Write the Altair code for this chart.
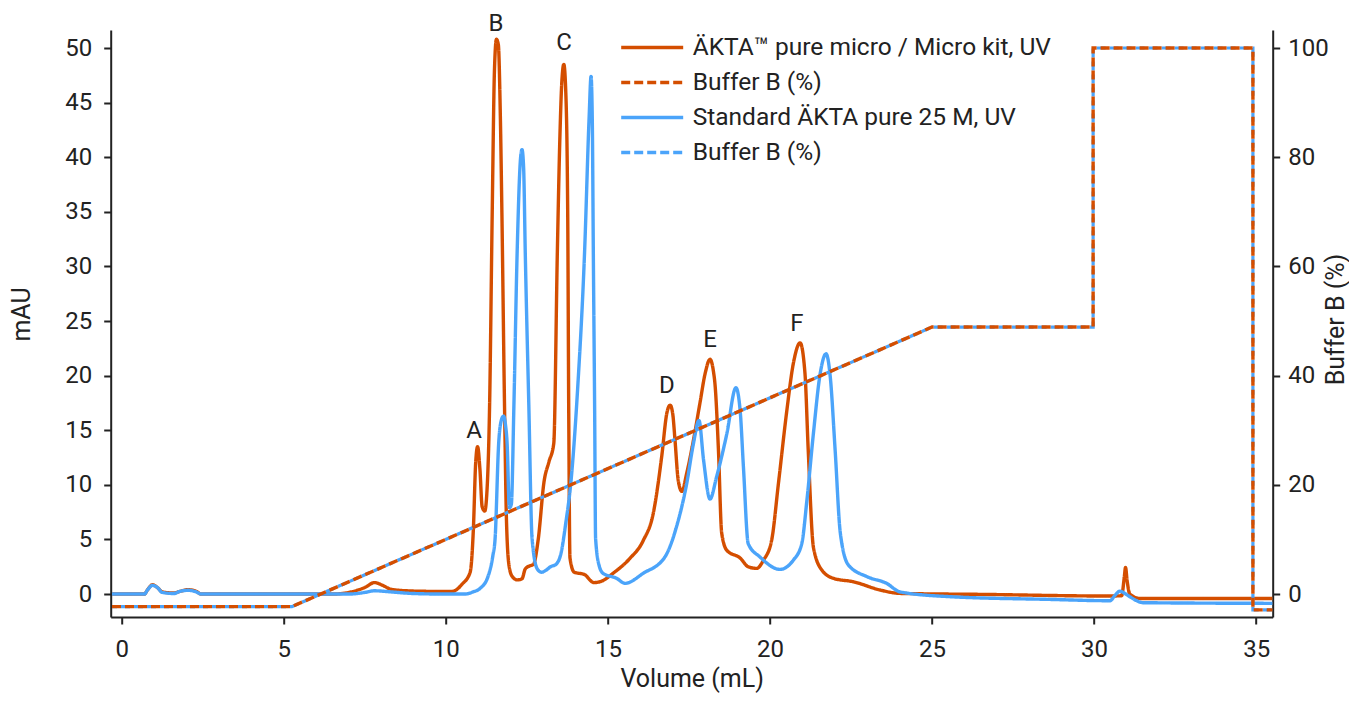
import altair as alt
import pandas as pd

# ---------------- data ----------------
micro_vol = [-0.3, 0.7, 0.8, 0.95, 1.1, 1.25, 1.6, 1.8, 2.05, 2.3, 2.45, 6.5, 7.0, 7.5, 7.8, 8.05,
             8.3, 8.8, 9.5, 10.2, 10.5, 10.75, 10.85, 10.92, 10.98, 11.05, 11.12, 11.2, 11.27,
             11.35, 11.43, 11.5, 11.56, 11.62, 11.68, 11.73, 11.81, 11.87, 11.95, 12.05, 12.2,
             12.35, 12.45, 12.6, 12.7, 12.85, 13.03, 13.18, 13.33, 13.44, 13.52, 13.58, 13.64,
             13.7, 13.76, 13.79, 13.83, 13.96, 14.27, 14.57, 14.76, 15.2, 15.68, 16.09, 16.4,
             16.66, 16.82, 16.92, 17.0, 17.07, 17.17, 17.28, 17.43, 17.64, 17.84, 18.0, 18.15,
             18.25, 18.31, 18.41, 18.51, 18.67, 19.08, 19.33, 19.59, 19.8, 20.05, 20.26, 20.52,
             20.72, 20.93, 21.08, 21.18, 21.34, 21.6, 21.96, 22.57, 23.4, 24.01, 26.58, 30.49,
             30.85, 30.93, 30.97, 31.02, 31.1, 31.42, 35.5]
micro_mau = [0, 0, 0.4, 0.85, 0.6, 0.2, 0.1, 0.25, 0.4, 0.25, 0, 0, 0.15, 0.6, 1.05, 0.8,
             0.45, 0.3, 0.25, 0.25, 0.9, 2.0, 6.0, 12.0, 13.5, 11.5, 8.0, 7.6, 9.5,
             17.3, 34.8, 48.0, 50.8, 50.3, 44.0, 34.8, 17.3, 6.8, 2.6, 1.6, 1.3,
             1.4, 2.3, 2.6, 2.7, 5.0, 10.3, 12.1, 13.8, 31.3, 42.0, 47.0, 48.5,
             46.0, 34.8, 17.3, 3.3, 2.0, 1.8, 1.05, 1.13, 2.0, 3.27, 4.9, 7.4,
             12.6, 16.6, 17.3, 16.5, 14.1, 10.4, 9.4, 11.05, 14.1, 17.5, 20.2, 21.5,
             20.5, 19.0, 13.2, 5.6, 4.0, 3.3, 2.5, 2.35, 3.1, 4.9, 10.1, 16.8,
             21.1, 23.0, 20.2, 13.2, 4.3, 2.2, 1.44, 1.13, 0.37, 0.06, -0.03, -0.18,
             -0.15, 1.5, 2.44, 1.2, 0.0, -0.4, -0.4]

std_vol = [-0.3, 0.7, 0.8, 0.95, 1.1, 1.25, 1.6, 1.8, 2.05, 2.3, 2.45, 7.0, 7.5, 7.8, 8.3, 9.0,
           10.0, 10.6, 10.84, 11.05, 11.3, 11.45, 11.52, 11.63, 11.72, 11.78, 11.84, 11.89,
           11.96, 12.02, 12.1, 12.2, 12.31, 12.35, 12.4, 12.45, 12.56, 12.66, 12.82, 12.95,
           13.1, 13.23, 13.39, 13.55, 13.7, 13.86, 14.07, 14.28, 14.42, 14.48, 14.52, 14.55,
           14.59, 14.62, 14.73, 14.85, 15.27, 15.53, 16.09, 16.76, 17.12, 17.43, 17.64, 17.81,
           17.95, 18.15, 18.35, 18.67, 18.95, 19.08, 19.18, 19.33, 19.69, 20.31, 20.72, 20.98,
           21.14, 21.34, 21.55, 21.73, 21.86, 22.01, 22.17, 22.42, 22.99, 23.6, 24.01, 25.56,
           28.64, 30.49, 30.65, 30.8, 30.95, 31.1, 31.52, 35.5]
std_mau = [0, 0, 0.4, 0.8, 0.6, 0.15, 0.05, 0.25, 0.35, 0.2, 0, 0, 0.15, 0.3, 0.2, 0.05,
           0, 0, 0.2, 0.5, 1.6, 3.5, 5.1, 13.8, 16.0, 16.3, 15.5, 13.8,
           7.9, 8.2, 17.3, 31.3, 40.1, 40.7, 39.0, 31.3, 17.3, 5.1, 2.3, 2.0,
           2.2, 2.5, 2.7, 3.7, 6.5, 10.3, 19.0, 31.3, 43.6, 47.4, 43.0, 31.3,
           17.3, 5.1, 2.6, 1.9, 1.44, 0.98, 1.9, 3.4, 6.2, 10.1, 13.8, 15.9,
           12.3, 8.7, 10.7, 14.7, 18.9, 16.8, 11.7, 4.6, 3.4, 2.26, 3.1, 4.6,
           8.6, 14.7, 20.2, 22.0, 19.9, 13.2, 5.6, 2.66, 1.6, 0.98, 0.2, -0.24,
           -0.49, -0.61, -0.1, 0.27, 0.05, -0.24, -0.79, -0.85]

buffer_vol = [-0.3, 5.25, 25.0, 29.97, 29.97, 34.9, 34.9, 35.5]
buffer_pct = [-2.3, -2.3, 48.9, 48.9, 100.0, 100.0, -2.9, -2.9]

peak_names = ["A", "B", "C", "D", "E", "F"]
peak_vol = [10.87, 11.55, 13.65, 16.82, 18.15, 20.83]
peak_mau = [14.9, 52.2, 50.5, 19.05, 23.3, 24.7]

series_keys = ["micro_uv", "micro_b", "std_uv", "std_b"]
series_labels = ["ÄKTA™ pure micro / Micro kit, UV", "Buffer B (%)",
                 "Standard ÄKTA pure 25 M, UV", "Buffer B (%)"]

# ---------------- styling ----------------
ORANGE = "#D44E00"
BLUE = "#4BA4FA"
series_colors = [ORANGE, ORANGE, BLUE, BLUE]
series_dashes = [[1, 0], [9, 4], [1, 0], [9, 4]]
FONT = "Roboto"
INK = "#222222"

def frame(vols, vals, key, col):
    return pd.DataFrame({"vol": vols, col: vals, "series": key, "idx": range(len(vols))})

micro_df = frame(micro_vol, micro_mau, "micro_uv", "mau")
std_df = frame(std_vol, std_mau, "std_uv", "mau")
micro_b_df = frame(buffer_vol, buffer_pct, "micro_b", "pct")
std_b_df = frame(buffer_vol, buffer_pct, "std_b", "pct")
peaks_df = pd.DataFrame({"name": peak_names, "vol": peak_vol, "mau": peak_mau})

label_expr = " : ".join(
    f"datum.value == '{k}' ? '{l}'" for k, l in zip(series_keys, series_labels)
) + " : ''"

# wide, flat line symbol for the legend (path is scaled by sqrt(size)/2)
legend = alt.Legend(
    orient="none", legendX=529, legendY=5, title=None, padding=0,
    symbolType="M-3,0L3,0", symbolSize=427, symbolStrokeWidth=3.5,
    labelFont=FONT, labelFontSize=24.5, labelColor=INK, labelOffset=28,
    labelLimit=600, rowPadding=10, labelExpr=label_expr,
)
color_enc = alt.Color("series:N", scale=alt.Scale(domain=series_keys, range=series_colors),
                      legend=legend)
dash_enc = alt.StrokeDash("series:N", scale=alt.Scale(domain=series_keys, range=series_dashes),
                          legend=legend)

x_enc = alt.X("vol:Q", scale=alt.Scale(domain=[-0.34, 35.51], nice=False, zero=False),
              axis=alt.Axis(values=[0, 5, 10, 15, 20, 25, 30, 35], title="Volume (mL)",
                            labelPadding=14, titleX=581, titleY=62,
                            titleAlign="center", titleBaseline="middle"))
y_left = alt.Y("mau:Q", scale=alt.Scale(domain=[-2.1, 51.65], nice=False, zero=False),
               axis=alt.Axis(orient="left", values=[0, 5, 10, 15, 20, 25, 30, 35, 40, 45, 50],
                             title="mAU", labelPadding=12, titleX=-88.7, titleY=284,
                             titleAngle=270, titleAlign="center", titleBaseline="middle"))
y_right = alt.Y("pct:Q", scale=alt.Scale(domain=[-4.2, 103.3], nice=False, zero=False),
                axis=alt.Axis(orient="right", values=[0, 20, 40, 60, 80, 100],
                              title="Buffer B (%)", labelPadding=8, titleX=63, titleY=289,
                              titleAngle=270, titleAlign="center", titleBaseline="middle"))

order_enc = alt.Order("idx:Q")

micro_line = alt.Chart(micro_df).mark_line(strokeWidth=3.4, interpolate="monotone").encode(
    x=x_enc, y=y_left, color=color_enc, strokeDash=dash_enc, order=order_enc)
std_line = alt.Chart(std_df).mark_line(strokeWidth=3.4, interpolate="monotone").encode(
    x=x_enc, y=y_left, color=color_enc, strokeDash=dash_enc, order=order_enc)
peak_text = alt.Chart(peaks_df).mark_text(font=FONT, fontSize=24, color=INK,
                                          align="center", baseline="middle").encode(
    x=x_enc, y=y_left, text="name:N")

std_buf = alt.Chart(std_b_df).mark_line(strokeWidth=3.2, strokeDashOffset=4).encode(
    x=x_enc, y=y_right, color=color_enc, strokeDash=dash_enc, order=order_enc)
micro_buf = alt.Chart(micro_b_df).mark_line(strokeWidth=3.4).encode(
    x=x_enc, y=y_right, color=color_enc, strokeDash=dash_enc, order=order_enc)

left = alt.layer(micro_line, std_line, peak_text)
right = alt.layer(std_buf, micro_buf)

chart = alt.layer(left, right).resolve_scale(y="independent").properties(
    width=1162, height=587,
    autosize=alt.AutoSizeParams(type="none"),
    padding={"left": 102.7, "top": 22, "right": 76, "bottom": 76},
).configure_view(stroke=None).configure_axis(
    grid=False, labelFont=FONT, titleFont=FONT, labelFontSize=24, titleFontSize=25,
    titleFontWeight="normal", labelColor=INK, titleColor=INK, domainColor=INK,
    tickColor=INK, domainWidth=2, tickWidth=2, tickSize=7,
)

chart.save("out.html", embed_options={"renderer": "svg", "actions": False})
